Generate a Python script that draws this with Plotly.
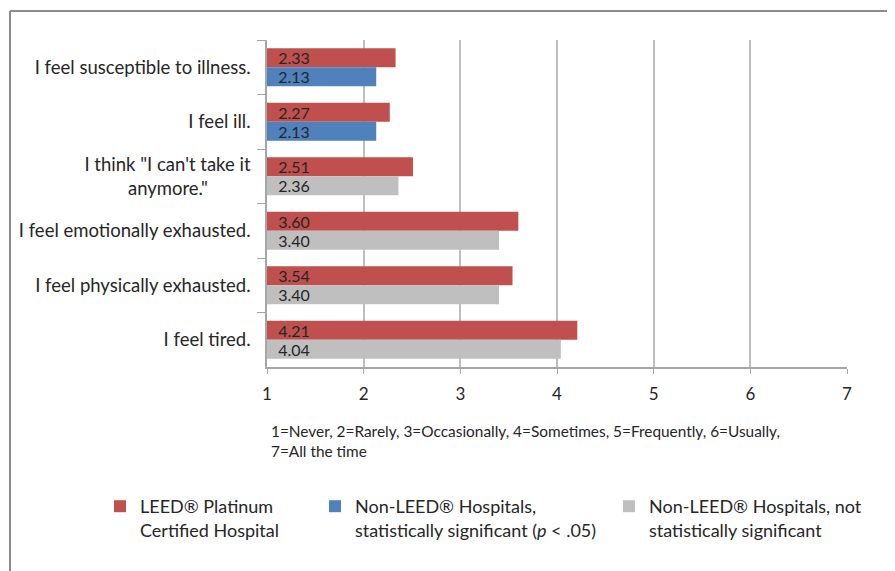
import plotly.graph_objects as go

categories = [
    "I feel susceptible to illness.",
    "I feel ill.",
    "I think \"I can't take it<br>anymore.\"&nbsp;&nbsp;&nbsp;&nbsp;&nbsp;&nbsp;&nbsp;&nbsp;&nbsp;",
    "I feel emotionally exhausted.",
    "I feel physically exhausted.",
    "I feel tired.",
]
leed_values = [2.33, 2.27, 2.51, 3.60, 3.54, 4.21]
nonleed_sig_values = [2.13, 2.13, None, None, None, None]
nonleed_nonsig_values = [None, None, 2.36, 3.40, 3.40, 4.04]
x_ticks = [1, 2, 3, 4, 5, 6, 7]
scale_note = "1=Never, 2=Rarely, 3=Occasionally, 4=Sometimes, 5=Frequently, 6=Usually,<br>7=All the time"
legend_names = [
    "LEED® Platinum<br>Certified Hospital",
    "Non-LEED® Hospitals,<br>statistically significant (<i>p</i> < .05)",
    "Non-LEED® Hospitals, not<br>statistically significant",
]

BASE = 1
FONT = "Lato"
TXT = "#262626"
OFF = 8  # page body margin

def lengths(vals):
    return [None if v is None else v - BASE for v in vals]

def labels(vals):
    return ["" if v is None else "&nbsp;&nbsp;%.2f" % v for v in vals]

fig = go.Figure()
series = [
    (leed_values, "#C0504D", "a", legend_names[0], "legend"),
    (nonleed_sig_values, "#4F81BD", "b", legend_names[1], "legend2"),
    (nonleed_nonsig_values, "#BFBFBF", "b", legend_names[2], "legend3"),
]
for vals, color, grp, name, lg in series:
    fig.add_trace(go.Bar(
        y=categories, x=lengths(vals), base=BASE, orientation="h",
        marker=dict(color=color, line=dict(width=0)),
        offsetgroup=grp, name=name, legend=lg,
        text=labels(vals), textposition="inside", insidetextanchor="start",
        constraintext="none",
        textfont=dict(family=FONT, size=16, color=TXT),
        customdata=vals, hovertemplate="%{customdata:.2f}<extra></extra>",
    ))

W, H = 895 - OFF, 571 - OFF
L, R, T, B = 267 - OFF, 895 - 847, 40 - OFF, 571 - 367
pw, ph = W - L - R, H - T - B

def px(xpix):
    return (xpix - OFF - L) / pw

def py(ypix):
    return (H - B - (ypix - OFF)) / ph

legend_common = dict(orientation="h", yanchor="top", xanchor="left",
                     font=dict(family=FONT, size=18, color=TXT),
                     bgcolor="rgba(0,0,0,0)", valign="top", borderwidth=0)

fig.update_layout(
    width=W, height=H,
    margin=dict(l=L, r=R, t=T, b=B),
    paper_bgcolor="white", plot_bgcolor="white",
    barmode="group", bargap=0.3, bargroupgap=0,
    font=dict(family=FONT, size=15, color=TXT),
    xaxis=dict(range=[1, 7], tickvals=x_ticks, showgrid=True,
               gridcolor="#BEBEBE", gridwidth=1.5, showline=True,
               linecolor="#A6A6A6", linewidth=1.5, ticks="outside",
               ticklen=5, tickcolor="#A6A6A6", zeroline=False,
               ticklabelstandoff=6,
               tickfont=dict(family=FONT, size=17, color=TXT)),
    yaxis=dict(autorange="reversed", showline=True, linecolor="#A6A6A6",
               linewidth=1.5, ticks="outside", tickson="boundaries",
               ticklen=8, tickcolor="#A6A6A6", showgrid=False,
               ticklabelstandoff=11,
               tickfont=dict(family=FONT, size=18.5, color=TXT)),
    legend=dict(x=px(100), y=py(488), **legend_common),
    legend2=dict(x=px(315), y=py(488), **legend_common),
    legend3=dict(x=px(609), y=py(488), **legend_common),
    annotations=[dict(
        text=scale_note, xref="paper", yref="paper", x=px(269), y=py(420),
        xanchor="left", yanchor="top", showarrow=False, align="left",
        font=dict(family=FONT, size=15.4, color=TXT))],
    shapes=[
        dict(type="line", xref="paper", yref="paper", x0=px(10), x1=px(900),
             y0=py(11), y1=py(11), line=dict(color="#8C8C8C", width=2)),
        dict(type="line", xref="paper", yref="paper", x0=px(10), x1=px(10),
             y0=py(11), y1=py(575), line=dict(color="#8C8C8C", width=2)),
    ],
    showlegend=True,
)

fig.write_html("out.html")
